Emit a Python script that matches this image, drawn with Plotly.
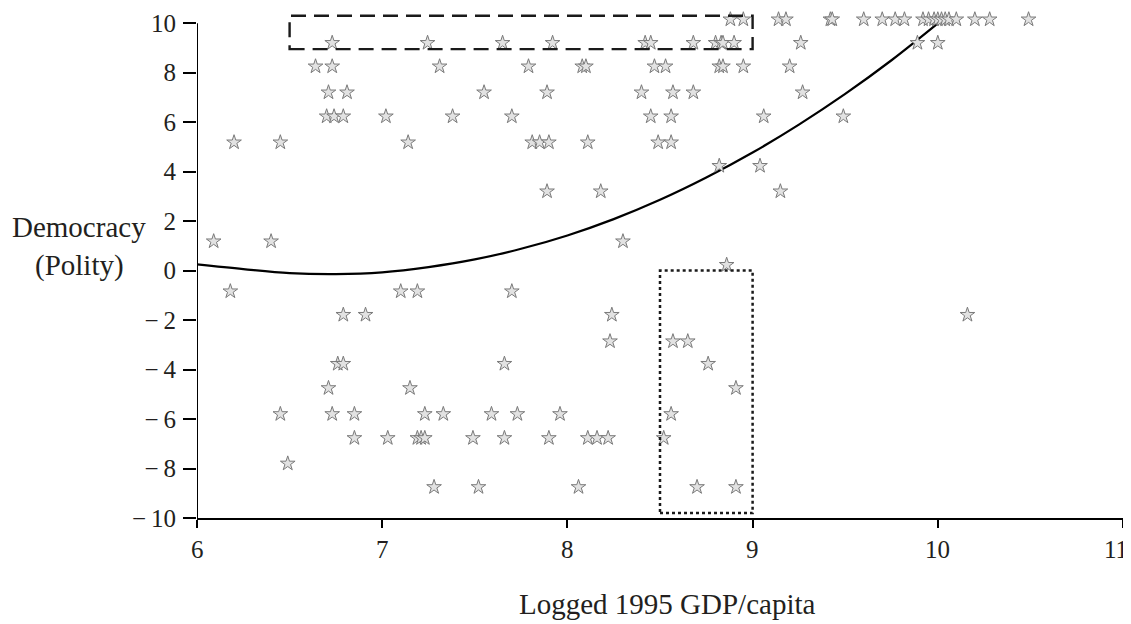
import plotly.graph_objects as go

# ---- data ----
log_gdp = [
    # ~10
    8.88, 8.95, 9.14, 9.18, 9.42, 9.43, 9.60, 9.70, 9.77, 9.82, 9.92, 9.95, 9.98, 10.00, 10.02, 10.04, 10.06, 10.10, 10.20, 10.28, 10.49,
    # ~9
    6.73, 7.245, 7.65, 7.92, 8.42, 8.45, 8.68, 8.80, 8.83, 8.84, 8.90, 9.26, 9.89, 10.00,
    # ~8
    6.64, 6.73, 7.31, 7.79, 8.08, 8.10, 8.47, 8.53, 8.82, 8.84, 8.95, 9.20,
    # ~7
    6.71, 6.81, 7.55, 7.89, 8.40, 8.57, 8.68, 9.27,
    # ~6
    6.70, 6.74, 6.79, 7.02, 7.38, 7.70, 8.45, 8.56, 9.06, 9.49,
    # ~5
    6.20, 6.45, 7.14, 7.81, 7.85, 7.90, 8.11, 8.49, 8.56,
    # ~4
    8.82, 9.04,
    # ~3
    7.89, 8.18, 9.15,
    # ~1
    6.09, 6.40, 8.30,
    # ~0
    8.86,
    # ~-1
    6.18, 7.10, 7.19, 7.70,
    # ~-2
    6.79, 6.91, 8.24, 10.16,
    # ~-3
    8.23, 8.57, 8.65,
    # ~-4
    6.76, 6.79, 7.66, 8.76,
    # ~-5
    6.71, 7.15, 8.91,
    # ~-6
    6.45, 6.73, 6.85, 7.23, 7.33, 7.59, 7.73, 7.96, 8.56,
    # ~-7
    6.85, 7.03, 7.19, 7.21, 7.23, 7.49, 7.66, 7.90, 8.11, 8.16, 8.22, 8.52,
    # ~-8
    6.49,
    # ~-9
    7.28, 7.52, 8.06, 8.70, 8.91,
]
polity = (
    [10.15] * 21 + [9.2] * 14 + [8.25] * 12 + [7.2] * 8 + [6.23] * 10 + [5.18] * 9
    + [4.23] * 2 + [3.2] * 3 + [1.18] * 3 + [0.23] * 1 + [-0.84] * 4 + [-1.79] * 4
    + [-2.86] * 3 + [-3.77] * 4 + [-4.75] * 3 + [-5.8] * 9 + [-6.77] * 12
    + [-7.8] * 1 + [-8.75] * 5
)

# fitted curve
fit_x = [6.0, 6.25, 6.5, 6.75, 7.0, 7.25, 7.5, 7.75, 8.0, 8.25, 8.5, 8.75, 9.0, 9.25, 9.5, 9.75, 10.0]
fit_y = [0.25, 0.06, -0.10, -0.14, -0.07, 0.14, 0.45, 0.88, 1.42, 2.08, 2.86, 3.76, 4.77, 5.90, 7.14, 8.50, 9.99]

# highlighted regions
dash_box_x = [6.5, 9.0]
dash_box_y = [8.95, 10.3]
dot_box_x = [8.5, 9.0]
dot_box_y = [-9.8, 0.0]

x_ticks = [6, 7, 8, 9, 10, 11]
x_ticktext = [str(v) for v in x_ticks]
y_ticks = [-10, -8, -6, -4, -2, 0, 2, 4, 6, 8, 10]
y_ticktext = [("\u2212\u2009" + str(abs(v))) if v < 0 else str(v) for v in y_ticks]

FONT = "Liberation Serif"
TXT = "#231f20"
X_RANGE = [6, 11]

fig = go.Figure()
fig.add_trace(go.Scatter(
    x=fit_x, y=fit_y, mode="lines", line=dict(color="black", width=2.2, shape="spline"),
    hoverinfo="skip", showlegend=False,
))
fig.add_trace(go.Scatter(
    x=log_gdp, y=polity, mode="markers",
    marker=dict(symbol="star", size=11, color="#e2e2e2", line=dict(color="#7a7a7a", width=1)),
    cliponaxis=False, showlegend=False,
))

fig.add_shape(type="rect", x0=dash_box_x[0], x1=dash_box_x[1], y0=dash_box_y[0], y1=dash_box_y[1],
              line=dict(color="#1a1a1a", width=2.4, dash="15px,8px"), layer="above")
fig.add_shape(type="rect", x0=dot_box_x[0], x1=dot_box_x[1], y0=dot_box_y[0], y1=dot_box_y[1],
              line=dict(color="#1a1a1a", width=2.5, dash="3px,3px"), layer="above")
# y axis line from -10 to 10
fig.add_shape(type="line", x0=6, x1=6, y0=-10, y1=10, line=dict(color="black", width=2), layer="above")

fig.add_annotation(x=-0.1274, y=0.575, xref="paper", yref="paper", text="Democracy", showarrow=False,
                   xanchor="center", yanchor="middle", font=dict(family=FONT, size=29, color=TXT))
fig.add_annotation(x=-0.1274, y=0.500, xref="paper", yref="paper", text="(Polity)", showarrow=False,
                   xanchor="center", yanchor="middle", font=dict(family=FONT, size=29, color=TXT))
fig.add_annotation(x=0.5086, y=-0.17, xref="paper", yref="paper", text="Logged 1995 GDP/capita",
                   showarrow=False, xanchor="center", yanchor="middle",
                   font=dict(family=FONT, size=29, color=TXT))

# x tick labels as annotations so that the last one ("11") stays inside the picture
for v, t in zip(x_ticks, x_ticktext):
    frac = (v - X_RANGE[0]) / (X_RANGE[1] - X_RANGE[0])
    last = v == X_RANGE[1]
    fig.add_annotation(x=frac + (0.0075 if last else 0), y=-0.0618, xref="paper", yref="paper", text=t,
                       showarrow=False, xanchor="right" if last else "center", yanchor="middle",
                       font=dict(family=FONT, size=25, color=TXT))

fig.update_xaxes(range=X_RANGE, tickvals=x_ticks, ticks="outside", ticklen=8, tickwidth=2, tickcolor="black",
                 showline=True, linecolor="black", linewidth=2, showgrid=False, zeroline=False,
                 showticklabels=False, automargin=False)
fig.update_yaxes(range=[-10, 10.45], tickvals=y_ticks, ticktext=y_ticktext, ticks="outside", ticklen=13,
                 tickwidth=2, tickcolor="black", showline=False, showgrid=False, zeroline=False,
                 tickfont=dict(family=FONT, size=25, color=TXT), ticklabelstandoff=2, automargin=False)

# the page adds an 8px body margin, so the figure is made 8px smaller and shifted to compensate
fig.update_layout(width=1123, height=616, margin=dict(l=189, r=8, t=4, b=106),
                  paper_bgcolor="white", plot_bgcolor="white")

fig.write_html("out.html")
